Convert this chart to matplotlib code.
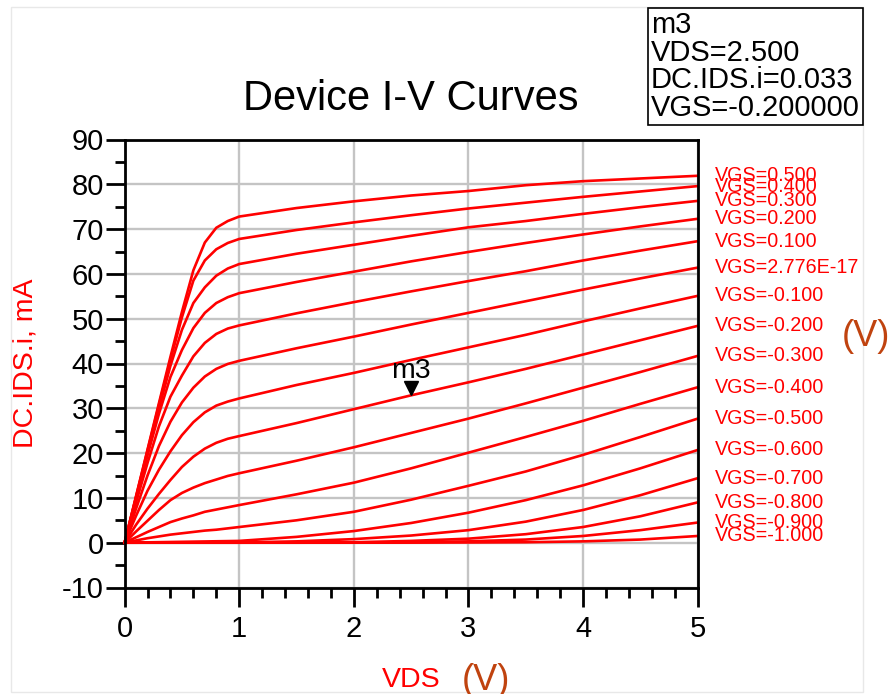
import numpy as np
import matplotlib
matplotlib.use("Agg")
import matplotlib.pyplot as plt
from matplotlib.ticker import MultipleLocator
from matplotlib.transforms import offset_copy
from matplotlib.patches import Rectangle

# drain voltage sweep (V)
vds = [0, 0.1, 0.2, 0.3, 0.4, 0.5, 0.6, 0.7, 0.8, 0.9, 1.0,
       1.5, 2.0, 2.5, 3.0, 3.5, 4.0, 4.5, 5.0]

# drain current (mA), one list per gate voltage
ids_p500 = [0, 10.4, 20.8, 31.2, 41.5, 51.5, 60.8, 67.0, 70.3, 71.8, 72.8, 74.7, 76.2, 77.5, 78.5, 79.8, 80.7, 81.3, 81.9]
ids_p400 = [0, 10.3, 20.6, 30.8, 40.8, 50.3, 58.5, 63.0, 65.5, 66.9, 67.8, 69.8, 71.5, 73.1, 74.6, 75.9, 77.2, 78.4, 79.6]
ids_p300 = [0, 10.1, 20.2, 30.0, 39.5, 47.5, 53.5, 57.0, 59.6, 61.2, 62.2, 64.5, 66.5, 68.5, 70.4, 71.8, 73.4, 74.9, 76.3]
ids_p200 = [0, 9.8, 19.5, 28.8, 37.0, 43.0, 47.9, 51.3, 53.5, 54.8, 55.7, 58.2, 60.5, 62.8, 64.9, 66.9, 68.8, 70.6, 72.3]
ids_p100 = [0, 9.0, 17.8, 26.0, 32.6, 37.3, 41.6, 44.6, 46.6, 47.8, 48.5, 51.2, 53.7, 56.1, 58.4, 60.6, 63.0, 65.2, 67.3]
ids_p000 = [0, 7.6, 15.0, 21.6, 27.0, 31.3, 34.6, 37.1, 38.8, 39.9, 40.6, 43.4, 46.0, 48.7, 51.3, 53.9, 56.5, 59.0, 61.4]
ids_m100 = [0, 6.0, 11.6, 16.3, 20.4, 24.0, 26.9, 29.1, 30.6, 31.5, 32.2, 35.2, 37.9, 40.8, 43.6, 46.4, 49.4, 52.3, 55.1]
ids_m200 = [0, 4.0, 7.6, 10.9, 14.0, 16.9, 19.2, 21.0, 22.3, 23.2, 23.8, 26.7, 29.8, 32.9, 35.8, 38.8, 42.0, 45.2, 48.4]
ids_m300 = [0, 2.5, 4.9, 7.3, 9.5, 11.1, 12.3, 13.3, 14.1, 14.9, 15.5, 18.3, 21.3, 24.5, 27.7, 31.1, 34.6, 38.1, 41.7]
ids_m400 = [0, 1.2, 2.4, 3.5, 4.6, 5.4, 6.1, 6.9, 7.4, 7.9, 8.4, 10.8, 13.4, 16.6, 20.1, 23.6, 27.2, 31.0, 34.7]
ids_m500 = [0, 0.5, 1.0, 1.4, 1.8, 2.1, 2.4, 2.7, 2.9, 3.2, 3.5, 5.0, 6.9, 9.6, 12.7, 15.9, 19.6, 23.6, 27.7]
ids_m600 = [0, 0.04, 0.08, 0.12, 0.16, 0.2, 0.24, 0.28, 0.32, 0.36, 0.4, 1.3, 2.6, 4.4, 6.7, 9.5, 12.8, 16.6, 20.7]
ids_m700 = [0, 0.0, 0.01, 0.01, 0.02, 0.02, 0.03, 0.03, 0.04, 0.04, 0.05, 0.3, 0.8, 1.6, 2.8, 4.7, 7.3, 10.6, 14.4]
ids_m800 = [0, 0, 0, 0, 0, 0, 0, 0, 0, 0, 0, 0.05, 0.1, 0.4, 0.9, 1.9, 3.5, 5.9, 9.0]
ids_m900 = [0, 0, 0, 0, 0, 0, 0, 0, 0, 0, 0, 0.0, 0.02, 0.1, 0.3, 0.7, 1.5, 2.8, 4.5]
ids_m1000 = [0, 0, 0, 0, 0, 0, 0, 0, 0, 0, 0, 0, 0, 0.02, 0.05, 0.1, 0.3, 0.7, 1.5]

vgs_labels = ["VGS=0.500", "VGS=0.400", "VGS=0.300", "VGS=0.200", "VGS=0.100",
              "VGS=2.776E-17", "VGS=-0.100", "VGS=-0.200", "VGS=-0.300",
              "VGS=-0.400", "VGS=-0.500", "VGS=-0.600", "VGS=-0.700",
              "VGS=-0.800", "VGS=-0.900", "VGS=-1.000"]

# marker m3
m3_vds = 2.5
m3_ids = 0.033   # A
m3_vgs = -0.2

curves = [ids_p500, ids_p400, ids_p300, ids_p200, ids_p100, ids_p000,
          ids_m100, ids_m200, ids_m300, ids_m400, ids_m500, ids_m600,
          ids_m700, ids_m800, ids_m900, ids_m1000]

plt.rcParams['font.family'] = ['Liberation Sans', 'DejaVu Sans']
plt.rcParams['axes.unicode_minus'] = False

fig = plt.figure(figsize=(8.92, 6.94), dpi=100)
ax = fig.add_axes([124.6 / 892, 1 - 587.5 / 694, 573.1 / 892, 448 / 694])

# faint frame around the plot object
fig.patches.append(Rectangle((11 / 892, 1 - 692 / 694), 852 / 892, 685 / 694,
                             transform=fig.transFigure, fill=False,
                             ec='#e8e8e8', lw=1, zorder=0))

for ids in curves:
    ax.plot(vds, ids, color='#ff0000', lw=1.9, zorder=3, clip_on=False)

for ids, lab in zip(curves, vgs_labels):
    ax.annotate(lab, xy=(vds[-1], ids[-1]), xytext=(12.5, 0),
                textcoords='offset points', color='#ff0000', fontsize=14.2,
                ha='left', va='center', annotation_clip=False)

# marker m3
tri = offset_copy(ax.transData, fig=fig, x=0, y=5, units='points')
ax.plot([m3_vds], [m3_ids * 1000], marker='v', color='black', ms=10,
        transform=tri, zorder=5, clip_on=False)
ax.annotate('m3', xy=(m3_vds, m3_ids * 1000), xytext=(0, 12),
            textcoords='offset points', ha='center', va='baseline',
            fontsize=20.5, zorder=5)

ax.set_xlim(0, 5)
ax.set_ylim(-10, 90)
ax.xaxis.set_major_locator(MultipleLocator(1))
ax.xaxis.set_minor_locator(MultipleLocator(0.2))
ax.yaxis.set_major_locator(MultipleLocator(10))
ax.yaxis.set_minor_locator(MultipleLocator(5))
ax.grid(True, which='major', color='#c4c4c4', lw=1.7, zorder=1)
ax.set_axisbelow(True)

for s in ax.spines.values():
    s.set_linewidth(2)
    s.set_color('black')
    s.set_zorder(4)

ax.tick_params(which='major', direction='out', length=14, width=2,
               labelsize=21, color='black')
ax.tick_params(which='minor', direction='out', length=7, width=2)
ax.tick_params(axis='y', which='major', pad=1)
ax.tick_params(axis='x', which='major', pad=6)

ax.set_title('Device I-V Curves', fontsize=30, pad=21)
ax.set_xlabel('VDS', color='#ff0000', fontsize=20.5)
ax.xaxis.set_label_coords(0.5, -0.177)
ax.set_ylabel('DC.IDS.i, mA', color='#ff0000', fontsize=20.5)
ax.yaxis.set_label_coords(-0.151, 0.5)

# unit annotations
fig.text(866 / 892, 1 - 336 / 694, '(V)', color='#c0430f', fontsize=26,
         ha='center', va='center')
fig.text(486 / 892, 1 - 680 / 694, '(V)', color='#c0430f', fontsize=26,
         ha='center', va='center')

# marker readout box
box_lines = ['m3', 'VDS=%.3f' % m3_vds, 'DC.IDS.i=%.3f' % m3_ids,
             'VGS=%.6f' % m3_vgs]
fig.text(651 / 892, 1 - 11 / 694, '\n'.join(box_lines), ha='left', va='top',
         fontsize=21, linespacing=0.98,
         bbox=dict(boxstyle='square,pad=0.1', fc='white', ec='black', lw=1.2))

fig.savefig('out.png', dpi=100)
